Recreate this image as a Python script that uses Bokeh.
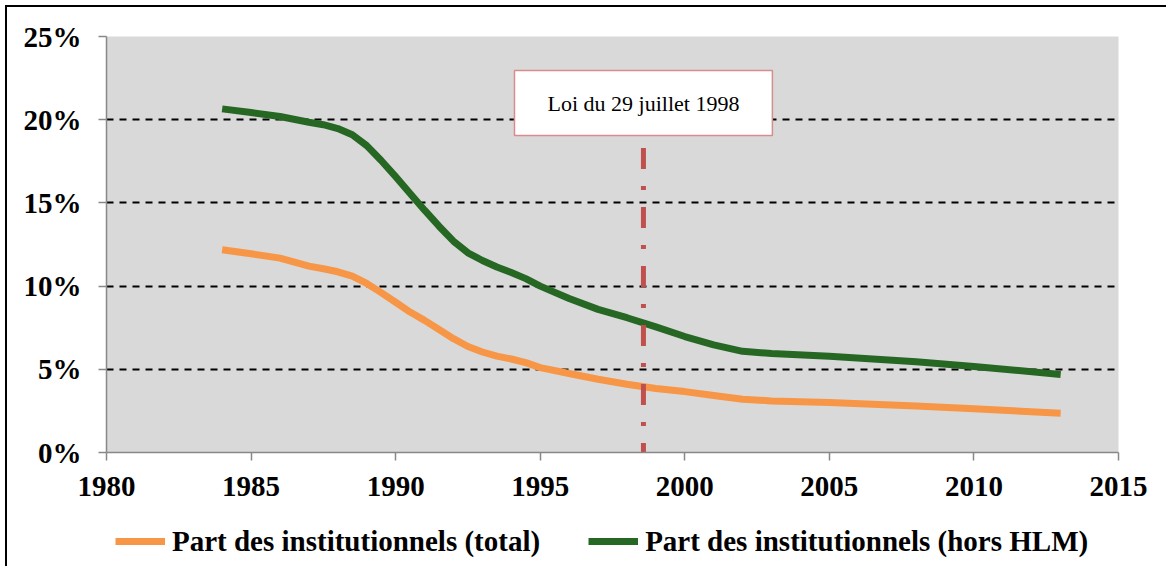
from bokeh.plotting import figure
from bokeh.models import (Range1d, FixedTicker, Legend, LegendItem, Label, Spacer)
from bokeh.layouts import column, row
from bokeh.embed import file_html
from bokeh.resources import INLINE

# ---- data ----
years = [1984, 1985, 1986, 1987, 1987.5, 1988, 1988.5, 1989, 1989.5, 1990, 1990.5,
         1991, 1991.5, 1992, 1992.5, 1993, 1993.5, 1994, 1994.5, 1995,
         1996, 1997, 1998, 1999, 2000, 2001, 2002, 2003, 2005, 2008, 2010, 2013]
part_total = [12.18, 11.94, 11.68, 11.20, 11.04, 10.86, 10.60, 10.16, 9.61, 9.03, 8.44,
              7.94, 7.39, 6.84, 6.37, 6.04, 5.79, 5.62, 5.40, 5.10,
              4.75, 4.40, 4.10, 3.85, 3.66, 3.42, 3.20, 3.10, 3.00, 2.80, 2.63, 2.36]
part_hors_hlm = [20.65, 20.43, 20.19, 19.85, 19.70, 19.47, 19.10, 18.44, 17.55, 16.58, 15.57,
                 14.56, 13.60, 12.70, 12.00, 11.54, 11.15, 10.82, 10.45, 10.00,
                 9.25, 8.60, 8.10, 7.55, 6.97, 6.47, 6.08, 5.95, 5.78, 5.45, 5.17, 4.69]
label_total = "Part des institutionnels (total)"
label_hors = "Part des institutionnels (hors HLM)"
x_ticks = [1980, 1985, 1990, 1995, 2000, 2005, 2010, 2015]
y_ticks = [0, 5, 10, 15, 20, 25]
y_tick_labels = ["0%", "5%", "10%", "15%", "20%", "25%"]
law_date = 1998.57
law_text = "Loi du 29 juillet 1998"
law_line_top = 18.3
law_label_y = 21.0

FONT = "Liberation Serif"
ORANGE = "#f79646"
GREEN = "#266823"

p = figure(width=1161, height=505, output_backend="svg", toolbar_location=None,
           x_range=Range1d(1980, 2015), y_range=Range1d(0, 25),
           min_border_left=99, min_border_top=29, min_border_right=50, min_border_bottom=60,
           background_fill_color="#d9d9d9", border_fill_color="white",
           outline_line_color=None,
           styles={"border-left": "2px solid black", "border-top": "2px solid black"})

# grid
p.xgrid.grid_line_color = None
p.ygrid.ticker = FixedTicker(ticks=y_ticks[1:])
p.ygrid.grid_line_color = "black"
p.ygrid.grid_line_width = 2
p.ygrid.grid_line_dash = "7 6"

# axes
for ax in (p.xaxis[0], p.yaxis[0]):
    ax.axis_line_color = "#888888"
    ax.axis_line_width = 1.5
    ax.major_tick_line_color = "#888888"
    ax.major_tick_line_width = 1.5
    ax.major_tick_out = 8
    ax.major_tick_in = 0
    ax.minor_tick_line_color = None
    ax.major_label_text_font = FONT
    ax.major_label_text_font_style = "bold"
    ax.major_label_text_font_size = "29px"
    ax.major_label_text_color = "black"

p.xaxis.ticker = FixedTicker(ticks=x_ticks)
p.xaxis.major_label_standoff = 16
p.yaxis.ticker = FixedTicker(ticks=y_ticks)
p.yaxis.major_label_overrides = {t: l for t, l in zip(y_ticks, y_tick_labels)}
p.yaxis.major_label_standoff = 17

p.line(years, part_total, line_color=ORANGE, line_width=7, line_join="round")
p.line(years, part_hors_hlm, line_color=GREEN, line_width=7, line_join="round")

# vertical law line
p.segment(x0=[law_date], y0=[law_line_top], x1=[law_date], y1=[0],
          line_color="#c0504d", line_width=5, line_dash="21 17 4 17")

lab = Label(x=law_date, y=law_label_y, text=law_text, text_align="center", text_baseline="middle",
            text_font=FONT, text_font_size="22px", text_color="black",
            background_fill_color="white", border_line_color="#d98c8c", border_line_width=1.5,
            padding=(33, 20))
p.add_layout(lab)

# ---- legend strip below the chart (frame is aligned with the chart's frame) ----
pl = figure(width=1161, height=56, output_backend="svg", toolbar_location=None,
            x_range=Range1d(0, 1), y_range=Range1d(0, 1),
            x_axis_location=None, y_axis_location=None, min_border=0,
            background_fill_color="white", border_fill_color="white",
            outline_line_color=None,
            styles={"border-left": "2px solid black"})
pl.grid.visible = False
# same series, outside this strip's visible range: only their legend swatches show
lt = pl.line(years, part_total, line_color=ORANGE, line_width=7)
lh = pl.line(years, part_hors_hlm, line_color=GREEN, line_width=7)

legend = Legend(items=[LegendItem(label=label_total, renderers=[lt]),
                       LegendItem(label=label_hors, renderers=[lh])],
                orientation="horizontal", location=(9, 5),
                label_text_font=FONT, label_text_font_style="bold",
                label_text_font_size="29px", label_text_color="black",
                glyph_width=50, glyph_height=40, label_height=40,
                spacing=48, label_standoff=7,
                padding=0, margin=0, border_line_color=None, background_fill_alpha=0)
pl.add_layout(legend)

layout = column(Spacer(height=5), row(Spacer(width=5), column(p, pl)))

open("out.html", "w").write(file_html(layout, INLINE))
